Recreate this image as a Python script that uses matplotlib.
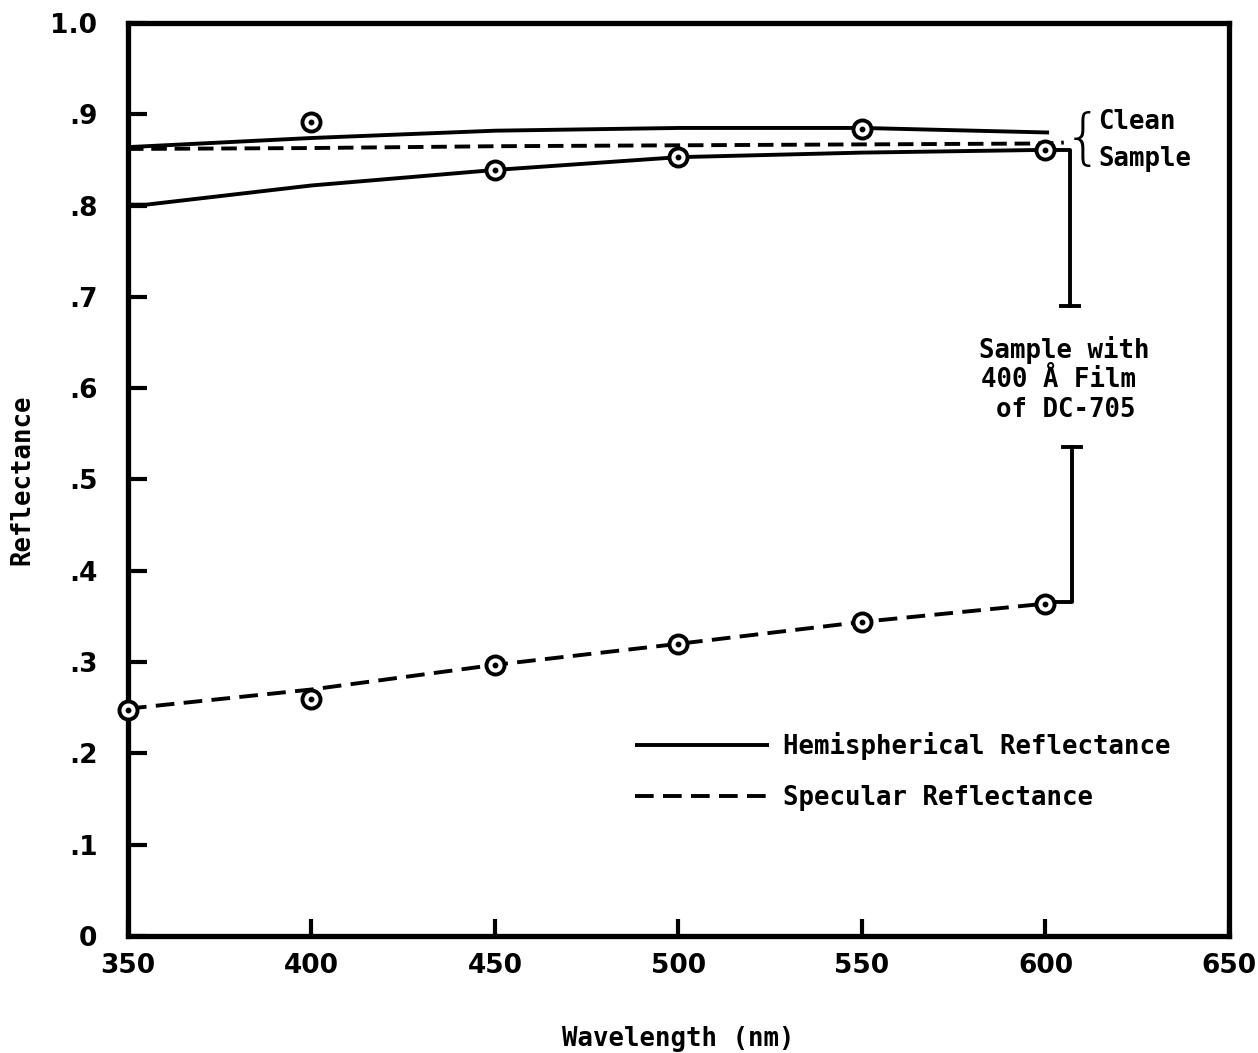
import matplotlib
matplotlib.use("Agg")
import matplotlib.pyplot as plt

# ---- data ----
wl_clean_hemi = [350, 400, 450, 500, 550, 601]
clean_hemi = [0.864, 0.874, 0.882, 0.885, 0.885, 0.880]

wl_clean_spec = [350, 400, 450, 500, 550, 600, 605]
clean_spec = [0.862, 0.863, 0.865, 0.866, 0.867, 0.868, 0.869]

wl_film_hemi = [350, 355, 400, 450, 500, 550, 600]
film_hemi = [0.801, 0.801, 0.822, 0.839, 0.853, 0.858, 0.861]

wl_film_spec = [350, 400, 450, 500, 550, 600]
film_spec = [0.249, 0.270, 0.297, 0.320, 0.344, 0.364]

wl_pts_upper = [400, 450, 500, 550, 600]
pts_upper = [0.892, 0.839, 0.853, 0.884, 0.861]

wl_pts_lower = [350, 400, 450, 500, 550, 600]
pts_lower = [0.248, 0.260, 0.297, 0.320, 0.344, 0.364]

xticks = [350, 400, 450, 500, 550, 600, 650]
xtick_labels = ["350", "400", "450", "500", "550", "600", "650"]
yticks = [0, 0.1, 0.2, 0.3, 0.4, 0.5, 0.6, 0.7, 0.8, 0.9, 1.0]
ytick_labels = ["0", ".1", ".2", ".3", ".4", ".5", ".6", ".7", ".8", ".9", "1.0"]

MONO = ["DejaVu Sans Mono"]
FS = 18.5
LW = 2.8

fig = plt.figure(figsize=(12.58, 10.53), dpi=100)
ax = fig.add_axes([0.1017, 0.1111, 0.8752, 0.8671])
ax.set_xlim(350, 650)
ax.set_ylim(0, 1.0)

dash = (4.8, 2.4)
ax.plot(wl_clean_hemi, clean_hemi, color="black", lw=LW, solid_capstyle="butt")
ax.plot(wl_clean_spec, clean_spec, color="black", lw=LW, dashes=(4.0, 2.0))
h1, = ax.plot(wl_film_hemi, film_hemi, color="black", lw=LW, solid_capstyle="butt")
h2, = ax.plot(wl_film_spec, film_spec, color="black", lw=LW, dashes=dash)

for xs, ys in [(wl_pts_upper, pts_upper), (wl_pts_lower, pts_lower)]:
    ax.plot(xs, ys, ls="none", marker="o", ms=13, mfc="white", mec="black",
            mew=2.8, clip_on=False, zorder=5)
    ax.plot(xs, ys, ls="none", marker="o", ms=3.2, mfc="black", mec="black",
            clip_on=False, zorder=6)

# brackets
bx1 = 606.7
ax.plot([602.5, bx1, bx1], [0.861, 0.861, 0.690], color="black", lw=LW, zorder=4)
ax.plot([bx1 - 2.5, bx1 + 2.5], [0.690, 0.690], color="black", lw=LW)
bx2 = 607.2
ax.plot([602.5, bx2, bx2], [0.366, 0.366, 0.536], color="black", lw=LW, zorder=4)
ax.plot([bx2 - 2.5, bx2 + 2.5], [0.536, 0.536], color="black", lw=LW)

ax.text(610.2, 0.871, "{", fontsize=44, family=["DejaVu Sans"], fontweight="light",
        ha="center", va="center")
ax.text(614.3, 0.8916, "Clean", fontsize=FS, family=MONO, fontweight="bold",
        ha="left", va="center")
ax.text(614.3, 0.851, "Sample", fontsize=FS, family=MONO, fontweight="bold",
        ha="left", va="center")
ax.text(605.0, 0.642, "Sample with", fontsize=FS, family=MONO, fontweight="bold",
        ha="center", va="center")
ax.text(603.5, 0.609, "400 Å Film", fontsize=FS, family=MONO, fontweight="bold",
        ha="center", va="center")
ax.text(605.5, 0.576, "of DC-705", fontsize=FS, family=MONO, fontweight="bold",
        ha="center", va="center")

leg = ax.legend([h1, h2], ["Hemispherical Reflectance", "Specular Reflectance"],
                loc="upper left", bbox_to_anchor=(0.4605, 0.223), frameon=False,
                handlelength=5.2, handletextpad=0.55, labelspacing=0.95,
                borderpad=0, borderaxespad=0,
                prop={"family": MONO, "weight": "bold", "size": FS})

# axes styling
for s in ax.spines.values():
    s.set_linewidth(3.8)
ax.set_xticks(xticks)
ax.set_xticklabels(xtick_labels)
ax.set_yticks(yticks)
ax.set_yticklabels(ytick_labels)
ax.tick_params(axis="x", direction="in", length=12, width=3, pad=12)
ax.tick_params(axis="y", direction="in", length=14, width=3, pad=22)
for lab in ax.get_xticklabels() + ax.get_yticklabels():
    lab.set_fontsize(19)
    lab.set_fontweight("bold")
    lab.set_family(["DejaVu Sans"])

ax.set_xlabel("Wavelength (nm)", fontsize=FS, family=MONO, fontweight="bold",
              labelpad=34)
ax.set_ylabel("Reflectance", fontsize=FS, family=MONO, fontweight="bold",
              labelpad=11)

fig.savefig("out.png", dpi=100)
